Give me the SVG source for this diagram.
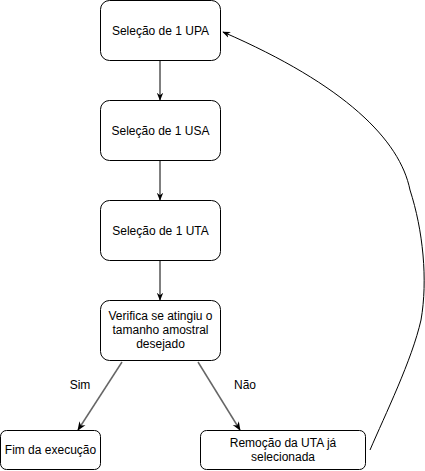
<svg xmlns="http://www.w3.org/2000/svg" width="425" height="471" viewBox="0 0 425 471">
<style>
.box{fill:#fff;stroke:#000;stroke-width:1}
.t{font-family:"Liberation Sans",Arial,sans-serif;font-size:12px;fill:#000;text-anchor:middle}
.c{fill:none;stroke:#000;stroke-width:1}
.g{fill:none;stroke:#666;stroke-width:1.5}
</style>
<defs>
<marker id="ab" viewBox="0 0 10 10" refX="9" refY="5" markerWidth="8" markerHeight="8" markerUnits="userSpaceOnUse" orient="auto"><path d="M0,1 L10,5 L0,9 L3,5 Z" fill="#000"/></marker>
<marker id="ag" viewBox="0 0 10 10" refX="9" refY="5" markerWidth="9" markerHeight="9" markerUnits="userSpaceOnUse" orient="auto"><path d="M0,1 L10,5 L0,9 L3,5 Z" fill="#000"/></marker>
</defs>
<rect width="425" height="471" fill="#fff"/>
<g id="connectors">
<line class="c" x1="160" y1="60.5" x2="160" y2="100" marker-end="url(#ab)"/>
<line class="c" x1="160" y1="160.5" x2="160" y2="200" marker-end="url(#ab)"/>
<line class="c" x1="160" y1="260.5" x2="160" y2="300" marker-end="url(#ab)"/>
<line class="g" x1="122" y1="362" x2="78" y2="430" marker-end="url(#ag)"/>
<line class="g" x1="198" y1="362" x2="240" y2="430" marker-end="url(#ag)"/>
<path class="c" d="M370,450 C385,415 412,360 421,320 C428,280 423,230 410,190 C400,140 345,85 223,32" marker-end="url(#ab)"/>
<text class="t" x="80" y="389">Sim</text>
<text class="t" x="245" y="389">Não</text>
</g>
<g id="n1"><rect class="box" x="100.5" y="0.5" width="120" height="60" rx="9"/><text class="t" x="160.5" y="35">Seleção de 1 UPA</text></g>
<g id="n2"><rect class="box" x="100.5" y="100.5" width="120" height="60" rx="9"/><text class="t" x="160.5" y="135">Seleção de 1 USA</text></g>
<g id="n3"><rect class="box" x="100.5" y="200.5" width="120" height="60" rx="9"/><text class="t" x="160.5" y="235">Seleção de 1 UTA</text></g>
<g id="n4"><rect class="box" x="100.5" y="300.5" width="120" height="60" rx="9"/><text class="t" x="160.5" y="320">Verifica se atingiu o</text><text class="t" x="160.5" y="334">tamanho amostral</text><text class="t" x="160.5" y="348">desejado</text></g>
<g id="n5"><rect class="box" x="0.5" y="430.5" width="100" height="39" rx="6"/><text class="t" x="50.5" y="454">Fim da execução</text></g>
<g id="n6"><rect class="box" x="200.5" y="430.5" width="165" height="39" rx="6"/><text class="t" x="283" y="447">Remoção da UTA já</text><text class="t" x="283" y="461">selecionada</text></g>
</svg>
